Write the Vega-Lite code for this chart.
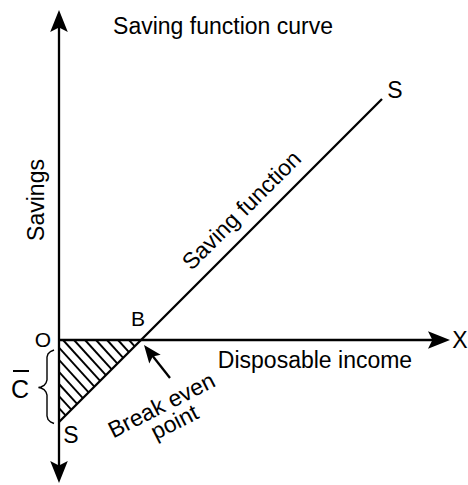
{
  "$schema": "https://vega.github.io/schema/vega-lite/v6.json",
  "width": 468,
  "height": 485,
  "padding": 0,
  "autosize": {"type": "none"},
  "background": "white",
  "config": {"view": {"stroke": null}},
  "datasets": {
    "lines": [
      {"name": "savings axis", "x": 0, "y": 325, "x2": 0, "y2": -138},
      {"name": "income axis", "x": 0, "y": 0, "x2": 386, "y2": 0},
      {"name": "saving function", "x": 0, "y": -82, "x2": 323, "y2": 241}
    ],
    "hatch": [
      {"x": 70, "y": 0, "x2": 75.71, "y2": -6.29},
      {"x": 59, "y": 0, "x2": 69.95, "y2": -12.05},
      {"x": 48, "y": 0, "x2": 64.19, "y2": -17.81},
      {"x": 37, "y": 0, "x2": 58.43, "y2": -23.57},
      {"x": 26, "y": 0, "x2": 52.67, "y2": -29.33},
      {"x": 15, "y": 0, "x2": 46.9, "y2": -35.1},
      {"x": 4, "y": 0, "x2": 41.14, "y2": -40.86},
      {"x": 0, "y": -7.7, "x2": 35.38, "y2": -46.62},
      {"x": 0, "y": -19.8, "x2": 29.62, "y2": -52.38},
      {"x": 0, "y": -31.9, "x2": 23.86, "y2": -58.14},
      {"x": 0, "y": -44, "x2": 18.1, "y2": -63.9},
      {"x": 0, "y": -56.1, "x2": 12.33, "y2": -69.67},
      {"x": 0, "y": -68.2, "x2": 6.57, "y2": -75.43}
    ],
    "cbar": [{"x": -46, "y": -31, "x2": -30, "y2": -31}],
    "pointer": [{"x": 90.5, "y": -12, "x2": 111, "y2": -38}],
    "brace": [
      {"i": 1, "x": -5, "y": -10},
      {"i": 2, "x": -8.5, "y": -11.5},
      {"i": 3, "x": -11, "y": -14},
      {"i": 4, "x": -12, "y": -17},
      {"i": 5, "x": -12, "y": -40},
      {"i": 6, "x": -13, "y": -43},
      {"i": 7, "x": -15, "y": -45.5},
      {"i": 8, "x": -18, "y": -47},
      {"i": 9, "x": -20.5, "y": -47.5},
      {"i": 10, "x": -18, "y": -48},
      {"i": 11, "x": -15, "y": -49.5},
      {"i": 12, "x": -13, "y": -52},
      {"i": 13, "x": -12, "y": -55},
      {"i": 14, "x": -12, "y": -76},
      {"i": 15, "x": -11, "y": -79.5},
      {"i": 16, "x": -8.5, "y": -82},
      {"i": 17, "x": -5, "y": -83.5}
    ],
    "arrowUp": [{"x": 0, "y": 319}],
    "arrowDown": [{"x": 0, "y": -132}],
    "arrowRight": [{"x": 380, "y": 0}],
    "arrowPointer": [{"x": 90.5, "y": -12.1}],
    "labels": [
      {"text": "Saving function curve", "x": 164, "y": 306},
      {"text": "Disposable income", "x": 256, "y": -28},
      {"text": "X", "x": 401, "y": -8},
      {"text": "S", "x": 336, "y": 242},
      {"text": "S", "x": 12, "y": -103}
    ],
    "small": [
      {"text": "O", "x": -16, "y": -7},
      {"text": "B", "x": 79, "y": 14}
    ],
    "clabel": [{"text": "C", "x": -39, "y": -58}],
    "vlabel": [{"text": "Savings", "x": -15.5, "y": 140}],
    "dlabel": [{"text": "Saving function", "x": 188, "y": 124.3}],
    "blabel": [
      {"text": "Break even", "x": 106, "y": -72},
      {"text": "point", "x": 119, "y": -89}
    ]
  },
  "encoding": {
    "x": {"field": "x", "type": "quantitative", "scale": {"domain": [-59, 409], "nice": false, "zero": false}, "axis": null},
    "y": {"field": "y", "type": "quantitative", "scale": {"domain": [-145, 340], "nice": false, "zero": false}, "axis": null}
  },
  "layer": [
    {
      "data": {"name": "hatch"},
      "mark": {"type": "rule", "color": "black", "strokeWidth": 1.9},
      "encoding": {"x2": {"field": "x2"}, "y2": {"field": "y2"}}
    },
    {
      "data": {"name": "lines"},
      "mark": {"type": "rule", "color": "black", "strokeWidth": 2.3},
      "encoding": {"x2": {"field": "x2"}, "y2": {"field": "y2"}}
    },
    {
      "data": {"name": "cbar"},
      "mark": {"type": "rule", "color": "black", "strokeWidth": 2},
      "encoding": {"x2": {"field": "x2"}, "y2": {"field": "y2"}}
    },
    {
      "data": {"name": "pointer"},
      "mark": {"type": "rule", "color": "black", "strokeWidth": 2.3},
      "encoding": {"x2": {"field": "x2"}, "y2": {"field": "y2"}}
    },
    {
      "data": {"name": "brace"},
      "mark": {"type": "line", "color": "black", "strokeWidth": 1.4, "interpolate": "linear"},
      "encoding": {"order": {"field": "i", "type": "quantitative"}}
    },
    {
      "data": {"name": "arrowUp"},
      "mark": {"type": "point", "shape": "M0,-1L0.8,1L0,0.6L-0.8,1Z", "filled": true, "color": "black", "opacity": 1, "size": 484, "angle": 0}
    },
    {
      "data": {"name": "arrowDown"},
      "mark": {"type": "point", "shape": "M0,-1L0.8,1L0,0.6L-0.8,1Z", "filled": true, "color": "black", "opacity": 1, "size": 484, "angle": 180}
    },
    {
      "data": {"name": "arrowRight"},
      "mark": {"type": "point", "shape": "M0,-1L0.8,1L0,0.6L-0.8,1Z", "filled": true, "color": "black", "opacity": 1, "size": 484, "angle": 90}
    },
    {
      "data": {"name": "arrowPointer"},
      "mark": {"type": "point", "shape": "M0,-1L0.8,1L0,0.6L-0.8,1Z", "filled": true, "color": "black", "opacity": 1, "size": 324, "angle": -37.5}
    },
    {
      "data": {"name": "labels"},
      "mark": {"type": "text", "font": "Liberation Sans", "fontSize": 23, "align": "center", "baseline": "alphabetic", "color": "black"},
      "encoding": {"text": {"field": "text"}}
    },
    {
      "data": {"name": "small"},
      "mark": {"type": "text", "font": "Liberation Sans", "fontSize": 21, "align": "center", "baseline": "alphabetic", "color": "black"},
      "encoding": {"text": {"field": "text"}}
    },
    {
      "data": {"name": "clabel"},
      "mark": {"type": "text", "font": "Liberation Sans", "fontSize": 25, "align": "center", "baseline": "alphabetic", "color": "black"},
      "encoding": {"text": {"field": "text"}}
    },
    {
      "data": {"name": "vlabel"},
      "mark": {"type": "text", "font": "Liberation Sans", "fontSize": 23, "align": "center", "baseline": "alphabetic", "angle": 270, "color": "black"},
      "encoding": {"text": {"field": "text"}}
    },
    {
      "data": {"name": "dlabel"},
      "mark": {"type": "text", "font": "Liberation Sans", "fontSize": 23, "align": "center", "baseline": "alphabetic", "angle": -45, "color": "black"},
      "encoding": {"text": {"field": "text"}}
    },
    {
      "data": {"name": "blabel"},
      "mark": {"type": "text", "font": "Liberation Sans", "fontSize": 23, "align": "center", "baseline": "alphabetic", "angle": -27, "color": "black"},
      "encoding": {"text": {"field": "text"}}
    }
  ]
}
